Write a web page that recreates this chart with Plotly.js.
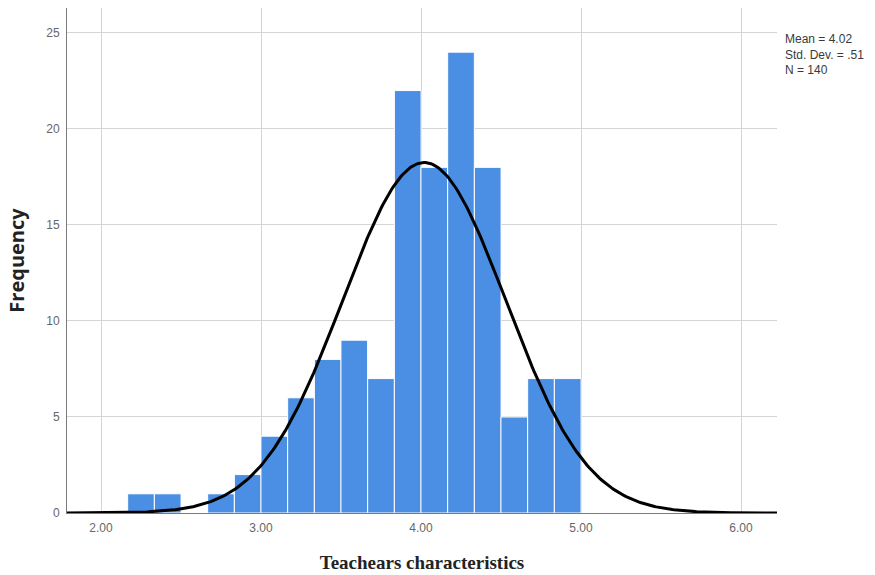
<!DOCTYPE html>
<html>
<head>
<meta charset="utf-8">
<script src="https://cdn.plot.ly/plotly-3.0.1.min.js"></script>
<style>html,body{margin:0;padding:0;background:#fff;}#chart{width:875px;height:575px;}</style>
</head>
<body>
<div id="chart"></div>
<script>
// Histogram bins (centres, width 1/6) and frequencies
const binCenters = [2.250, 2.417, 2.583, 2.750, 2.917, 3.083, 3.250, 3.417, 3.583, 3.750, 3.917, 4.083, 4.250, 4.417, 4.583, 4.750, 4.917];
const frequencies = [1, 1, 0, 1, 2, 4, 6, 8, 9, 7, 22, 18, 24, 18, 5, 7, 7];
const binWidth = 1/6;
// Summary statistics shown in the chart
const statMean = 4.02;
const statSD = 0.51;
const statN = 140;
const xTickVals = [2, 3, 4, 5, 6];
const xTickText = ["2.00", "3.00", "4.00", "5.00", "6.00"];
const yTickVals = [0, 5, 10, 15, 20, 25];

// Fitted normal curve from the displayed mean, SD and N
const xMin = 1.7875, xMax = 6.225;
const curveX = [], curveY = [];
for (let i = 0; i <= 400; i++) {
  const x = xMin + (xMax - xMin) * i / 400;
  const z = (x - statMean) / statSD;
  curveX.push(x);
  curveY.push(statN * binWidth * Math.exp(-0.5 * z * z) / (statSD * Math.sqrt(2 * Math.PI)));
}

const traces = [
  {
    type: 'bar', x: binCenters, y: frequencies, width: binWidth,
    marker: {color: '#4a8fe3', line: {color: '#ffffff', width: 1}},
    hoverinfo: 'x+y'
  },
  {
    type: 'scatter', mode: 'lines', x: curveX, y: curveY,
    line: {color: '#000000', width: 3}, hoverinfo: 'skip'
  }
];

const tickFont = {family: 'Arial, Liberation Sans, sans-serif', size: 12, color: '#666666'};

const layout = {
  width: 875, height: 575,
  margin: {l: 67, r: 98, t: 8, b: 62},
  paper_bgcolor: '#ffffff', plot_bgcolor: '#ffffff',
  showlegend: false,
  bargap: 0,
  font: {family: 'Arial, Liberation Sans, sans-serif', color: '#555555', size: 12},
  xaxis: {
    range: [xMin, xMax], tickvals: xTickVals, ticktext: xTickText,
    showgrid: true, gridcolor: '#d4d4d4', gridwidth: 1,
    zeroline: false, showline: true, linecolor: '#7a7a7a', linewidth: 1,
    ticks: '', ticklen: 0, ticklabelstandoff: 4,
    tickfont: tickFont,
    title: {text: 'Teachears characteristics', standoff: 21,
            font: {family: 'Liberation Serif, Times New Roman, serif', size: 19, color: '#222222', weight: 'bold'}}
  },
  yaxis: {
    range: [0, 26.3], tickvals: yTickVals,
    showgrid: true, gridcolor: '#d4d4d4', gridwidth: 1,
    zeroline: false, showline: true, linecolor: '#7a7a7a', linewidth: 1,
    ticks: '', ticklen: 0, ticklabelstandoff: 4,
    tickfont: tickFont,
    title: {text: 'Frequency', standoff: 16,
            font: {family: 'Open Sans, sans-serif', size: 20, color: '#222222', weight: 'bold'}}
  },
  annotations: [{
    xref: 'paper', yref: 'paper', x: 1.008, y: 0.957, xanchor: 'left', yanchor: 'top',
    align: 'left', showarrow: false,
    text: 'Mean = ' + statMean.toFixed(2) + '<br>Std. Dev. = .51<br>N = ' + statN,
    font: {family: 'Arial, Liberation Sans, sans-serif', size: 12, color: '#3a3a3a'}
  }]
};

Plotly.newPlot('chart', traces, layout, {displayModeBar: false, staticPlot: true});
</script>
</body>
</html>
